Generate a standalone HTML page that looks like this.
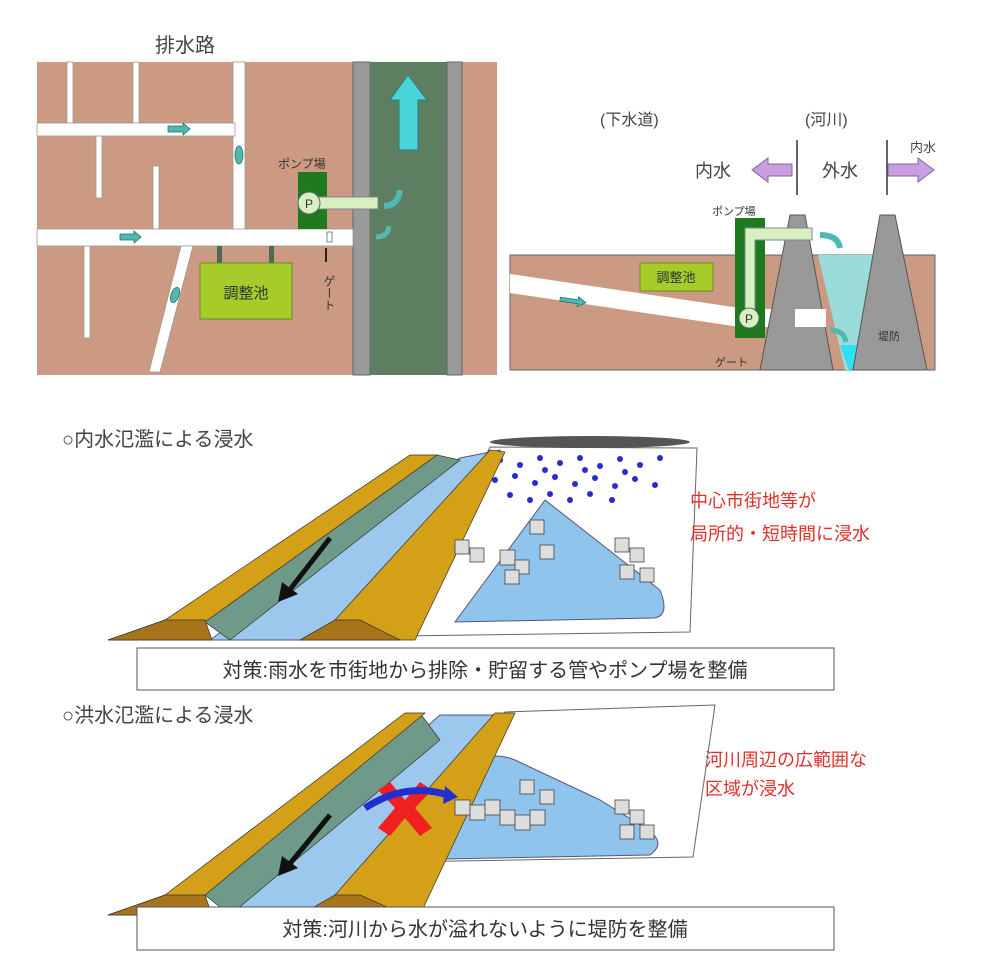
<!DOCTYPE html>
<html><head><meta charset="utf-8"><style>
html,body{margin:0;padding:0;background:#fff;}
svg{display:block;font-family:"Liberation Sans","Noto Sans CJK JP",sans-serif;}
</style></head><body>
<svg width="1000" height="976" viewBox="0 0 1000 976" xmlns="http://www.w3.org/2000/svg">
<!-- TOP LEFT PLAN -->
<text x="155" y="52" font-size="20" fill="#444">排水路</text>
<rect x="37" y="62" width="460" height="313" fill="#cc9a82"/>
<rect x="353" y="62" width="17" height="313" fill="#9a9a9a" stroke="#666"/>
<rect x="370" y="62" width="77" height="313" fill="#5e7e62"/>
<rect x="447" y="62" width="15" height="313" fill="#9a9a9a" stroke="#666"/>
<g fill="#fff" stroke="#999" stroke-width="0.8">
<rect x="67" y="62" width="6" height="61"/>
<rect x="133" y="62" width="6" height="61"/>
<rect x="96" y="136" width="6" height="62"/>
<rect x="153" y="166" width="6" height="63"/>
<rect x="84" y="246" width="6" height="92"/>
<rect x="233" y="62" width="12" height="168"/>
<rect x="37" y="123" width="198" height="13"/>
<rect x="37" y="229" width="316" height="17"/>
<polygon points="181,246 193,246 160,372 149,372"/>
</g>
<g fill="#4fb8b0" stroke="#2a6d68" stroke-width="0.8">
<polygon points="168,126 183,126 183,123 190,129 183,135 183,132 168,132"/>
<polygon points="120,234 134,234 134,231 141,237 134,243 134,240 120,240"/>
<ellipse cx="239" cy="155" rx="4" ry="9"/>
<ellipse cx="175" cy="295" rx="4" ry="8" transform="rotate(20 175 295)"/>
<rect x="572" y="270" width="8" height="15"/>
</g>
<rect x="217" y="246" width="5" height="30" fill="#4a6a55"/>
<rect x="269" y="246" width="5" height="30" fill="#4a6a55"/>
<rect x="200" y="263" width="92" height="56" fill="#a6cc2a" stroke="#6b8a20"/>
<text x="246" y="298" font-size="15" fill="#333" text-anchor="middle">調整池</text>
<text x="278" y="168" font-size="12" fill="#333">ポンプ場</text>
<rect x="298" y="172" width="29" height="57" fill="#1f7a1f"/>
<rect x="318" y="197" width="60" height="12" fill="#d8f0c0" stroke="#789"/>
<circle cx="309" cy="203" r="11" fill="#d8f0c0" stroke="#567"/>
<text x="309" y="208" font-size="12" fill="#333" text-anchor="middle">P</text>
<path d="M384,206 Q398,206 400,190" stroke="#4fb8b0" stroke-width="6" fill="none"/>
<path d="M376,237 Q388,237 389,226" stroke="#4fb8b0" stroke-width="5" fill="none"/>
<rect x="327" y="232" width="5" height="10" fill="#fff" stroke="#333" stroke-width="0.6"/>
<line x1="326" y1="248" x2="326" y2="262" stroke="#222" stroke-width="2"/>
<text x="329" y="275" font-size="12" fill="#333" writing-mode="tb">ゲート</text>
<polygon points="399,150 418,150 418,100 427,100 408,75 390,100 399,100" fill="#48d4d8" stroke="#2a7f80"/>

<!-- TOP RIGHT SECTION -->
<text x="600" y="125" font-size="16" fill="#444">(下水道)</text>
<text x="805" y="125" font-size="16" fill="#444">(河川)</text>
<line x1="797" y1="140" x2="797" y2="195" stroke="#333" stroke-width="1.5"/>
<line x1="887" y1="140" x2="887" y2="195" stroke="#333" stroke-width="1.5"/>
<text x="695" y="177" font-size="18" fill="#444">内水</text>
<text x="822" y="177" font-size="18" fill="#444">外水</text>
<text x="910" y="152" font-size="13" fill="#444">内水</text>
<polygon points="792,164 768,164 768,158 752,170 768,182 768,176 792,176" fill="#c8a0e0" stroke="#8a60a0"/>
<polygon points="888,164 918,164 918,158 934,170 918,182 918,176 888,176" fill="#c8a0e0" stroke="#8a60a0"/>
<rect x="510" y="255" width="425" height="115" fill="#cc9a82" stroke="#666"/>
<polygon points="510,274 740,308 740,327 510,293" fill="#fff"/>
<rect x="740" y="309" width="86" height="18" fill="#fff"/>
<rect x="640" y="263" width="73" height="28" fill="#a6cc2a" stroke="#6b8a20"/>
<text x="676" y="282" font-size="13" fill="#333" text-anchor="middle">調整池</text>
<polygon points="818,255 903,255 858,370 845,370" fill="#9adcdc"/>
<polygon points="840,345 862,345 853,370 849,370" fill="#30e0f0"/>
<polygon points="790,215 805,215 833,370 760,370" fill="#999" stroke="#555"/>
<polygon points="880,215 895,215 927,370 853,370" fill="#999" stroke="#555"/>
<rect x="795" y="309" width="31" height="18" fill="#fff"/>
<text x="878" y="340" font-size="11" fill="#333">堤防</text>
<rect x="735" y="218" width="30" height="120" fill="#1f7a1f"/>
<polygon points="745,228 812,228 812,240 755,240 755,310 745,310" fill="#d8f0c0" stroke="#789"/>
<circle cx="749" cy="318" r="10" fill="#d8f0c0" stroke="#567"/>
<text x="749" y="323" font-size="12" fill="#333" text-anchor="middle">P</text>
<text x="712" y="215" font-size="11" fill="#333">ポンプ場</text>
<text x="715" y="366" font-size="11" fill="#333">ゲート</text>
<path d="M820,235 Q838,235 840,248" stroke="#4fb8b0" stroke-width="6" fill="none"/>
<path d="M830,330 Q844,330 846,342" stroke="#4fb8b0" stroke-width="5" fill="none"/>
<polygon points="560,299 578,299 578,296 586,301 578,306 578,303 560,303" fill="#4fb8b0" stroke="#2a6d68" stroke-width="0.8" transform="rotate(8 573 301)"/>

<!-- MIDDLE -->
<text x="62" y="446" font-size="20" fill="#444">○内水氾濫による浸水</text>
<polygon points="490,447 697,448 690,632 400,636" fill="#fff" stroke="#666"/>
<ellipse cx="590" cy="442" rx="100" ry="6" fill="#555"/>
<g fill="#2a2ad0">
<circle cx="500" cy="460" r="3"/><circle cx="520" cy="465" r="3"/><circle cx="540" cy="458" r="3"/><circle cx="560" cy="463" r="3"/><circle cx="580" cy="458" r="3"/><circle cx="600" cy="466" r="3"/><circle cx="620" cy="459" r="3"/><circle cx="640" cy="465" r="3"/><circle cx="660" cy="458" r="3"/>
<circle cx="495" cy="480" r="3"/><circle cx="515" cy="476" r="3"/><circle cx="535" cy="483" r="3"/><circle cx="555" cy="477" r="3"/><circle cx="575" cy="484" r="3"/><circle cx="595" cy="478" r="3"/><circle cx="615" cy="486" r="3"/><circle cx="635" cy="479" r="3"/><circle cx="655" cy="485" r="3"/>
<circle cx="510" cy="495" r="3"/><circle cx="530" cy="500" r="3"/><circle cx="550" cy="494" r="3"/><circle cx="570" cy="500" r="3"/><circle cx="590" cy="494" r="3"/><circle cx="612" cy="500" r="3"/><circle cx="545" cy="470" r="3"/><circle cx="585" cy="470" r="3"/><circle cx="625" cy="472" r="3"/>
</g>
<path d="M545,500 L455,622 L655,618 Q670,615 660,590 Z" fill="#8fc4ec" stroke="#557"/>
<polygon points="210,640 460,458 500,450 320,640" fill="#9cc8ee" stroke="#557"/>
<polygon points="205,622 437,455 460,460 230,640" fill="#6f9a8a" stroke="#333" stroke-width="0.7"/>
<polygon points="108,640 165,620 410,455 437,455 205,622 210,640" fill="#d4a017" stroke="#333" stroke-width="0.7"/>
<polygon points="108,640 165,620 205,620 212,640" fill="#a8741a" stroke="#333" stroke-width="0.7"/>
<polygon points="300,640 335,620 490,450 505,452 415,640" fill="#d4a017" stroke="#333" stroke-width="0.7"/>
<polygon points="300,640 335,620 360,620 400,640" fill="#a8741a" stroke="#333" stroke-width="0.7"/>
<line x1="330" y1="538" x2="288" y2="592" stroke="#111" stroke-width="5"/>
<polygon points="278,602 282,582 298,594" fill="#111"/>
<g fill="#ddd" stroke="#444" stroke-width="0.8">
<rect x="455" y="540" width="14" height="14"/><rect x="470" y="548" width="14" height="14"/><rect x="500" y="550" width="15" height="15"/><rect x="515" y="560" width="14" height="14"/><rect x="530" y="520" width="14" height="14"/><rect x="540" y="545" width="14" height="14"/><rect x="505" y="570" width="14" height="14"/>
<rect x="615" y="538" width="14" height="14"/><rect x="630" y="548" width="14" height="14"/><rect x="620" y="565" width="14" height="14"/><rect x="640" y="568" width="14" height="14"/>
</g>
<text x="690" y="507" font-size="18" fill="#e0302a">中心市街地等が</text>
<text x="690" y="540" font-size="18" fill="#e0302a">局所的・短時間に浸水</text>
<rect x="137" y="648" width="697" height="42" fill="#fff" stroke="#555"/>
<text x="485" y="677" font-size="20" fill="#333" text-anchor="middle">対策:雨水を市街地から排除・貯留する管やポンプ場を整備</text>

<!-- BOTTOM -->
<text x="62" y="722" font-size="20" fill="#444">○洪水氾濫による浸水</text>
<polygon points="505,712 715,705 693,857 400,862" fill="#fff" stroke="#666"/>
<path d="M470,765 Q490,750 515,760 L600,800 L645,828 Q668,842 650,855 L395,860 L440,790 Z" fill="#8fc4ec" stroke="#557"/>
<polygon points="210,915 440,715 510,715 320,915" fill="#9cc8ee" stroke="#557"/>
<polygon points="205,895 420,713 440,740 230,915" fill="#6f9a8a" stroke="#333" stroke-width="0.7"/>
<polygon points="108,915 165,895 405,713 425,713 205,895 210,915" fill="#d4a017" stroke="#333" stroke-width="0.7"/>
<polygon points="108,915 165,895 205,895 212,915" fill="#a8741a" stroke="#333" stroke-width="0.7"/>
<polygon points="300,915 335,895 495,713 515,713 420,915" fill="#d4a017" stroke="#333" stroke-width="0.7"/>
<polygon points="300,915 335,895 360,895 405,915" fill="#a8741a" stroke="#333" stroke-width="0.7"/>
<line x1="330" y1="815" x2="288" y2="866" stroke="#111" stroke-width="5"/>
<polygon points="278,876 282,856 298,868" fill="#111"/>
<g fill="#ddd" stroke="#444" stroke-width="0.8">
<rect x="455" y="800" width="15" height="15"/><rect x="470" y="805" width="15" height="15"/><rect x="485" y="800" width="15" height="15"/><rect x="500" y="810" width="15" height="15"/><rect x="515" y="815" width="15" height="15"/><rect x="530" y="810" width="15" height="15"/><rect x="520" y="780" width="14" height="14"/><rect x="540" y="790" width="14" height="14"/>
<rect x="615" y="800" width="14" height="14"/><rect x="630" y="810" width="14" height="14"/><rect x="620" y="825" width="14" height="14"/><rect x="640" y="825" width="14" height="14"/>
</g>
<polygon points="378,790 390,782 405,800 420,782 432,790 415,808 432,828 420,836 405,818 390,836 378,828 395,808" fill="#f02020"/>
<path d="M365,808 Q405,782 448,795" stroke="#2030d0" stroke-width="7" fill="none"/>
<polygon points="445,786 458,797 443,804" fill="#2030d0"/>
<text x="705" y="766" font-size="18" fill="#e0302a">河川周辺の広範囲な</text>
<text x="705" y="795" font-size="18" fill="#e0302a">区域が浸水</text>
<rect x="137" y="907" width="697" height="43" fill="#fff" stroke="#555"/>
<text x="485" y="936" font-size="20" fill="#333" text-anchor="middle">対策:河川から水が溢れないように堤防を整備</text>
</svg>
</body></html>
